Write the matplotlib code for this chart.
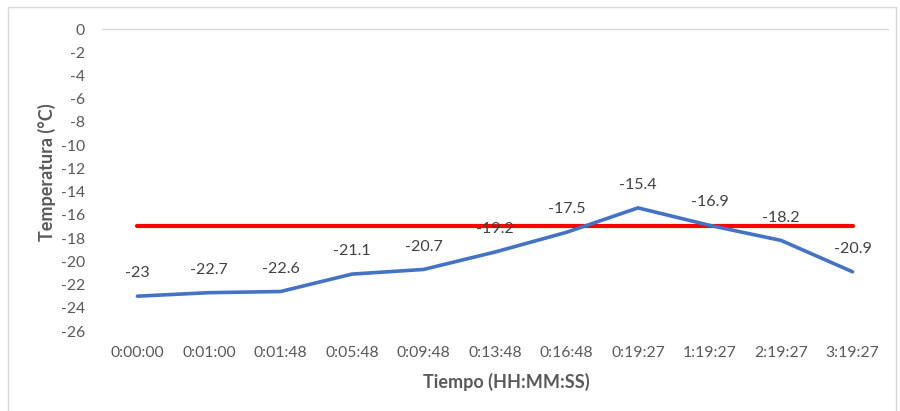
import matplotlib.pyplot as plt
from matplotlib.patches import Rectangle

# datos
tiempos = ['0:00:00', '0:01:00', '0:01:48', '0:05:48', '0:09:48', '0:13:48',
           '0:16:48', '0:19:27', '1:19:27', '2:19:27', '3:19:27']
temperatura = [-23, -22.7, -22.6, -21.1, -20.7, -19.2, -17.5, -15.4, -16.9, -18.2, -20.9]
referencia = [-17] * len(tiempos)
yticks = list(range(0, -27, -2))

plt.rcParams['font.family'] = ['Lato', 'DejaVu Sans']
gris = '#595959'

fig = plt.figure(figsize=(9, 4.11), dpi=100)
ax = fig.add_axes([0.113, 0.1946, 0.874, 0.7348])

x = list(range(len(tiempos)))
ax.plot(x, referencia, color='#ff0000', lw=3, solid_capstyle='round', zorder=2)
ax.plot(x, temperatura, color='#4472c4', lw=2.6, solid_capstyle='round', zorder=3)

for xi, v in zip(x, temperatura):
    ax.annotate('%g' % v, (xi, v), xytext=(0, 16.5), textcoords='offset points',
                ha='center', va='center', fontsize=11.5, color='#404040', zorder=4)

ax.axhline(0, color='#d9d9d9', lw=1, clip_on=False, zorder=1)

ax.set_xlim(-0.5, len(tiempos) - 0.5)
ax.set_ylim(-26, 0)
ax.set_xticks(x)
ax.set_xticklabels(tiempos)
ax.set_yticks(yticks)
ax.set_yticklabels([str(t) for t in yticks])
ax.tick_params(axis='both', length=0, labelsize=11.3, labelcolor=gris)
ax.tick_params(axis='x', pad=11)
ax.tick_params(axis='y', pad=12)
for s in ax.spines.values():
    s.set_visible(False)

fig.text(0.052, 0.58, 'Temperatura (°C)', rotation=90, ha='center', va='center',
         fontsize=13, fontweight='bold', color=gris)
fig.text(0.563, 0.07, 'Tiempo (HH:MM:SS)', ha='center', va='center',
         fontsize=13, fontweight='bold', color=gris)

fig.patches.append(Rectangle((8 / 900, -0.01), 888 / 900, 1 - 7 / 411 + 0.01,
                             transform=fig.transFigure, fill=False,
                             edgecolor='#d9d9d9', lw=1))

fig.savefig('out.png', dpi=100)
